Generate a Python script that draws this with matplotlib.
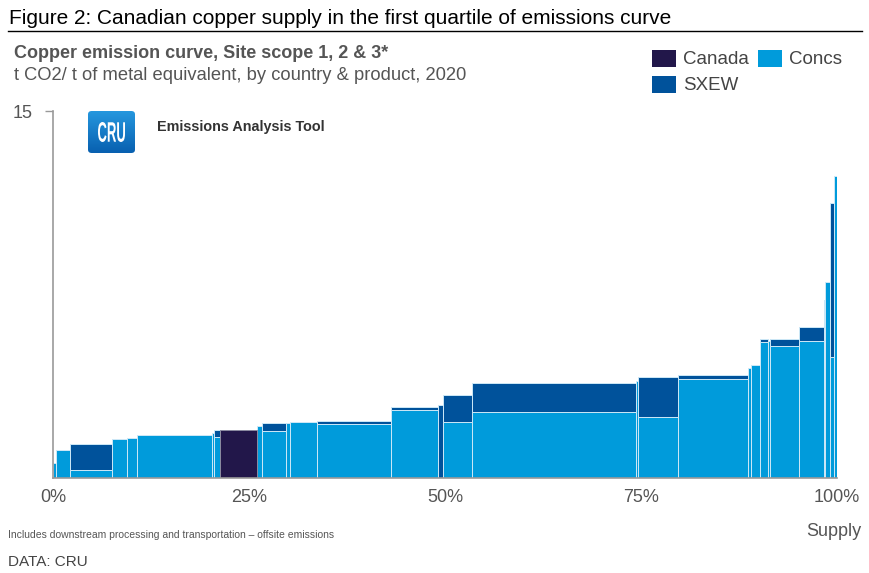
import numpy as np
import matplotlib
matplotlib.use("Agg")
import matplotlib.pyplot as plt
from matplotlib.patches import FancyBboxPatch, Rectangle, PathPatch
from matplotlib.lines import Line2D
from matplotlib.textpath import TextPath
from matplotlib.font_manager import FontProperties
from matplotlib.transforms import Affine2D

plt.rcParams['font.family'] = ['Liberation Sans', 'DejaVu Sans']

# supply share of each block (% of world supply), left to right
share = [0.42, 1.75, 5.36, 1.91, 1.27, 9.57, 0.26, 0.76, 4.72, 0.64,
         3.06, 0.57, 3.38, 9.44, 6.04, 0.59, 3.70, 20.88, 0.36, 5.04,
         8.93, 0.32, 1.21, 1.06, 0.21, 3.64, 3.19, 0.25, 0.64, 0.49, 0.34]
# emission intensity, t CO2 / t metal equivalent
concs = [0.63, 1.14, 0.33, 1.58, 1.65, 1.74, 1.85, 1.66, 0.0, 2.12,
         1.93, 2.26, 2.30, 2.19, 2.78, 0.0, 2.27, 2.68, 3.97, 2.50,
         4.04, 4.50, 4.63, 5.57, 5.60, 5.38, 5.59, 7.27, 8.02, 4.96, 12.35]
sxew = [0.0, 0.0, 1.06, 0.0, 0.0, 0.0, 0.0, 0.30, 0.0, 0.0,
        0.33, 0.0, 0.0, 0.14, 0.13, 2.98, 1.12, 1.19, 0.0, 1.62,
        0.16, 0.0, 0.0, 0.10, 0.0, 0.29, 0.60, 0.0, 0.0, 6.26, 0.0]
canada = [0.0] * 31
canada[8] = 1.96

legend_labels = ['Canada', 'Concs', 'SXEW']

c_canada = '#22174a'
c_concs = '#009bdb'
c_sxew = '#00529b'
grey = '#555555'

W, H = 869, 573
fig = plt.figure(figsize=(W / 100, H / 100), dpi=100)


def fx(x):
    return x / W


def fy(y):
    return 1 - y / H


ax = fig.add_axes([fx(53), fy(478), fx(837) - fx(53), fy(111) - fy(478)])

share = np.array(share)
left = np.concatenate([[0], np.cumsum(share)[:-1]])
edge = '#cde8f7'
ax.bar(left, concs, width=share, align='edge', color=c_concs,
       edgecolor=edge, linewidth=0.7)
ax.bar(left, sxew, width=share, bottom=concs, align='edge', color=c_sxew,
       edgecolor=edge, linewidth=0.7)
ax.bar(left, canada, width=share, align='edge', color=c_canada,
       edgecolor='#8a8aa0', linewidth=0.7)

ax.set_xlim(0, 100)
ax.set_ylim(0, 15)
ax.set_xticks([0, 25, 50, 75, 100])
ax.set_xticklabels(['0%', '25%', '50%', '75%', '100%'])
ax.set_yticks([15])
ax.tick_params(axis='x', length=0, pad=8, labelsize=13, labelcolor=grey)
ax.tick_params(axis='y', length=6, width=1, color='#999999', pad=9,
               labelsize=13, labelcolor=grey)
for s in ['top', 'right']:
    ax.spines[s].set_visible(False)
ax.spines['left'].set_color('#999999')
ax.spines['bottom'].set_color('#999999')
ax.spines['left'].set_linewidth(1.2)
ax.spines['bottom'].set_linewidth(1.2)

# header
fig.text(fx(9), fy(18), 'Figure 2: Canadian copper supply in the first quartile of emissions curve',
         fontsize=15, color='black', va='center', ha='left')
fig.add_artist(Line2D([fx(8), fx(862)], [fy(31), fy(31)], color='black', lw=1))
fig.text(fx(14), fy(54), 'Copper emission curve, Site scope 1, 2 & 3*',
         fontsize=13, fontweight='bold', color=grey, va='center', ha='left')
fig.text(fx(14), fy(75), 't CO2/ t of metal equivalent, by country & product, 2020',
         fontsize=13.2, color=grey, va='center', ha='left')

# legend, placed by hand
leg_items = [(652, 50, c_canada), (758, 50, c_concs), (652, 76, c_sxew)]
for (x0, y0, c), lab in zip(leg_items, legend_labels):
    fig.add_artist(Rectangle((fx(x0), fy(y0 + 17)), fx(24), 17 / H,
                             transform=fig.transFigure, facecolor=c,
                             edgecolor='none'))
    fig.text(fx(x0 + 31), fy(y0 + 9), lab, fontsize=13.5, color='#444444',
             ha='left', va='center')

# CRU logo with vertical gradient
lax = fig.add_axes([fx(88), fy(153), fx(47), 42 / H])
grad = np.linspace(0, 1, 64).reshape(-1, 1)
cmap = matplotlib.colors.LinearSegmentedColormap.from_list('cru', ['#2597de', '#0860b0'])
im = lax.imshow(grad, aspect='auto', cmap=cmap, extent=[0, 1, 1, 0])
clip = FancyBboxPatch((0, 0), 1, 1, boxstyle='round,pad=0,rounding_size=0.08',
                      transform=lax.transAxes, facecolor='none', edgecolor='none')
lax.add_patch(clip)
im.set_clip_path(clip)
lax.set_xlim(0, 1)
lax.set_ylim(1, 0)
lax.axis('off')

tp = TextPath((0, 0), 'CRU', size=40, prop=FontProperties(family='Liberation Sans', weight='bold'))
bb = tp.get_extents()
sx = 27 / bb.width
sy = 20 / bb.height
tr = Affine2D().translate(-bb.x0, -bb.y0).scale(sx, sy).translate(98, H - 142)
fig.add_artist(PathPatch(tp, transform=tr, facecolor='white', edgecolor='none'))

fig.text(fx(157), fy(127), 'Emissions Analysis Tool', fontsize=10.4,
         fontweight='bold', color='#333333', ha='left', va='center')

# footer
fig.text(fx(8), fy(535), 'Includes downstream processing and transportation \u2013 offsite emissions',
         fontsize=7.5, color=grey, ha='left', va='center')
fig.text(fx(861), fy(531), 'Supply', fontsize=13, color=grey,
         ha='right', va='center')
fig.text(fx(8), fy(562), 'DATA: CRU', fontsize=11, color='#444444',
         ha='left', va='center')

fig.savefig('out.png', dpi=100)
